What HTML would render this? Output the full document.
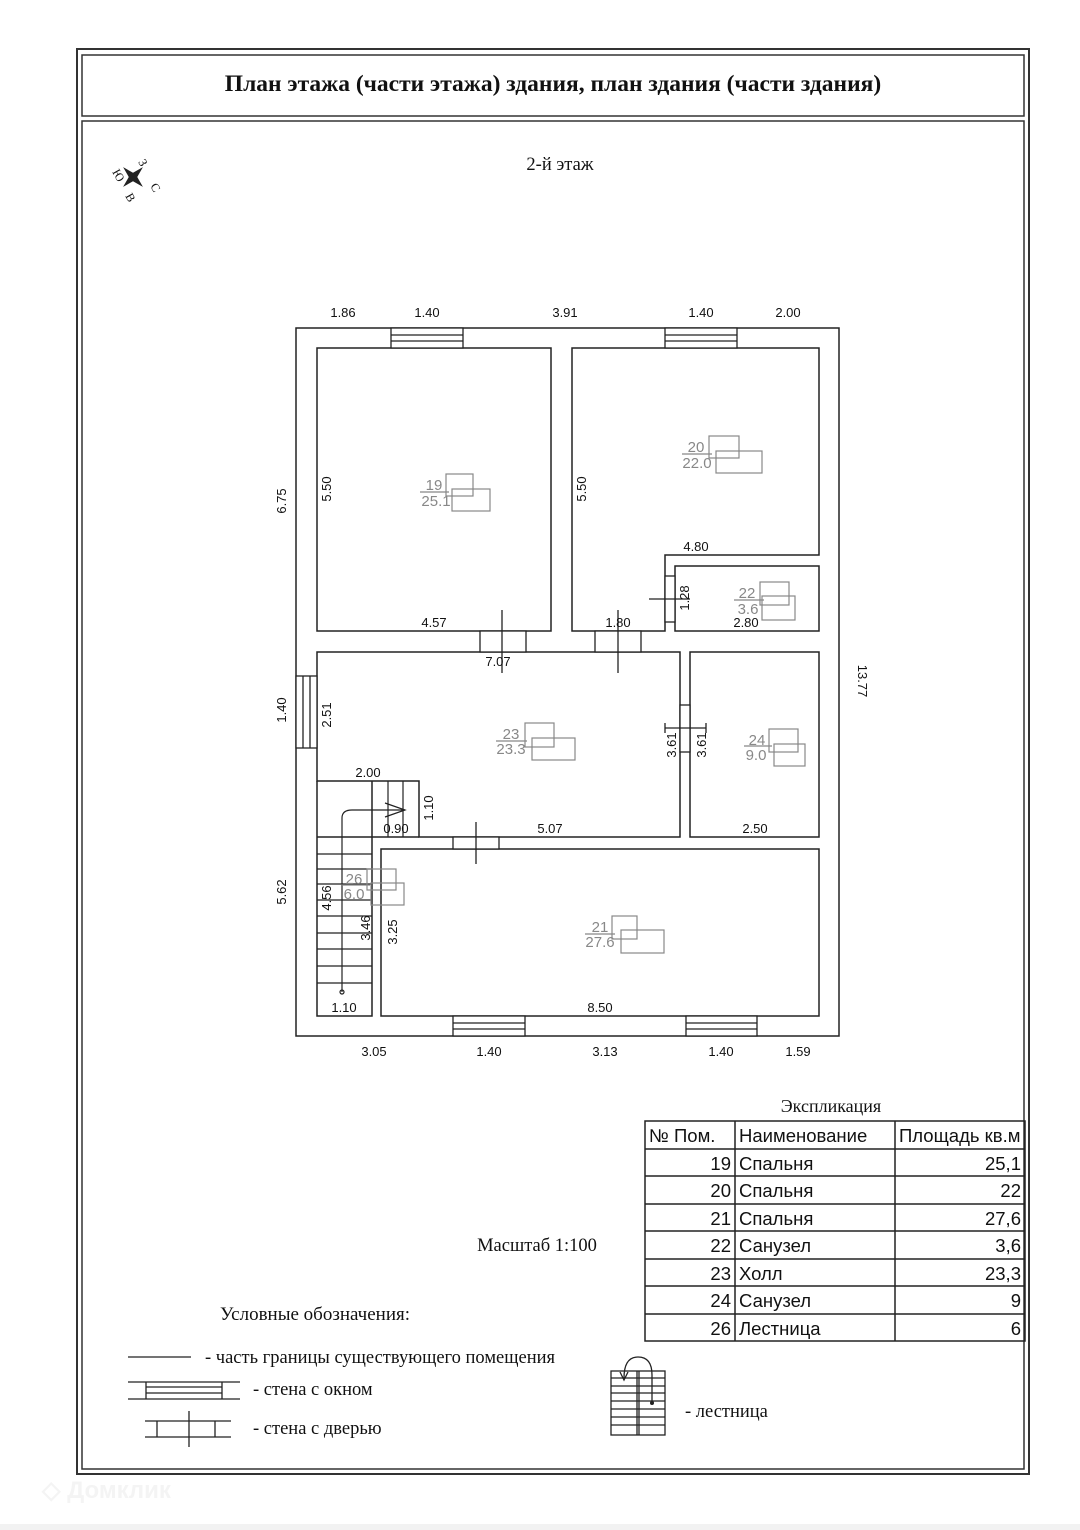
<!DOCTYPE html>
<html><head><meta charset="utf-8"><style>
html,body{margin:0;padding:0;background:#fff}
svg{display:block}
.d{font-family:"Liberation Sans",sans-serif;font-size:13px;fill:#111}
.r{font-family:"Liberation Sans",sans-serif;font-size:15px;fill:#888}
.s{font-family:"Liberation Serif",serif;fill:#111}
.t{font-family:"Liberation Sans","DejaVu Sans",sans-serif;font-size:18.5px;fill:#111}
</style></head><body>
<svg width="1080" height="1530" viewBox="0 0 1080 1530" xmlns="http://www.w3.org/2000/svg">
<rect x="0" y="1524" width="1080" height="6" fill="#f2f2f2"/>
<g fill="none" stroke="#333">
<rect x="77" y="49" width="952" height="1425" stroke-width="2"/>
<rect x="82" y="55" width="942" height="61" stroke-width="1.5"/>
<rect x="82" y="121" width="942" height="1348" stroke-width="1.5"/>
</g>
<text x="553" y="91" text-anchor="middle" class="s" font-size="23.5" font-weight="bold">План этажа (части этажа) здания, план здания (части здания)</text>
<text x="560" y="170" text-anchor="middle" class="s" font-size="18.5">2-й этаж</text>
<!-- compass -->
<g transform="translate(133,177) rotate(45)">
<path d="M0,-14 L3,-3 L14,0 L3,3 L0,14 L-3,3 L-14,0 L-3,-3Z" fill="#222"/>
</g>
<text x="138" y="162" class="s" font-size="12" transform="rotate(60 138 162)">З</text>
<text x="150" y="186" class="s" font-size="12" transform="rotate(60 150 186)">С</text>
<text x="125" y="196" class="s" font-size="12" transform="rotate(60 125 196)">В</text>
<text x="112" y="172" class="s" font-size="12" transform="rotate(60 112 172)">Ю</text>
<!-- plan -->
<g fill="none" stroke="#222" stroke-width="1.5">
<rect x="296" y="328" width="543" height="708"/>
<rect x="317" y="348" width="234" height="283"/>
<path d="M572,348 H819 V555 H665 V631 H572 Z"/>
<rect x="675" y="566" width="144" height="65"/>
<path d="M317,652 H680 V837 H419 V781 H317 Z"/>
<rect x="690" y="652" width="129" height="185"/>
<rect x="381" y="849" width="438" height="167"/>
<path d="M317,781 V1016 H372 V837"/>
<path d="M372,781 V837 M317,837 H419"/>
</g>
<!-- stairs -->
<g stroke="#222" stroke-width="1.2" fill="none">
<path d="M388,781 V837 M403,781 V837"/>
<path d="M317,854 H372 M317,869 H372 M317,884 H372 M317,900 H372 M317,916 H372 M317,933 H372 M317,949 H372 M317,966 H372 M317,983 H372"/>
<path d="M342,992 V818 Q342,810 352,810 H405"/>
<path d="M385,803 L405,810 L385,817"/>
<circle cx="342" cy="992" r="2"/>
</g>
<!-- windows -->
<g fill="#fff" stroke="#222" stroke-width="1.3">
<rect x="391" y="328" width="72" height="20"/><path d="M391,335 H463 M391,341 H463"/>
<rect x="665" y="328" width="72" height="20"/><path d="M665,335 H737 M665,341 H737"/>
<rect x="453" y="1016" width="72" height="20"/><path d="M453,1023 H525 M453,1029 H525"/>
<rect x="686" y="1016" width="71" height="20"/><path d="M686,1023 H757 M686,1029 H757"/>
<rect x="296" y="676" width="21" height="72"/><path d="M303,676 V748 M310,676 V748"/>
</g>
<!-- doors -->
<g fill="#fff" stroke="#222" stroke-width="1.3">
<rect x="480" y="631" width="46" height="21"/><path d="M502,610 V673"/>
<rect x="595" y="631" width="46" height="21"/><path d="M618,610 V673"/>
<rect x="680" y="705" width="10" height="47"/><path d="M665,728 H706 M665,723 V733 M706,723 V733"/>
<rect x="453" y="837" width="46" height="12"/><path d="M476,822 V864"/>
<rect x="665" y="576" width="10" height="46"/><path d="M649,599 H690"/>
</g>
<!-- room labels -->
<g stroke="#888" stroke-width="1.2" fill="none">
<rect x="446" y="474" width="27" height="22"/><rect x="452" y="489" width="38" height="22"/><path d="M420,492 H449"/>
<rect x="709" y="436" width="30" height="22"/><rect x="716" y="451" width="46" height="22"/><path d="M682,454 H712"/>
<rect x="760" y="582" width="29" height="23"/><rect x="762" y="596" width="33" height="24"/><path d="M734,600 H764"/>
<rect x="525" y="723" width="29" height="24"/><rect x="532" y="738" width="43" height="22"/><path d="M496,741 H527"/>
<rect x="769" y="729" width="29" height="23"/><rect x="774" y="744" width="31" height="22"/><path d="M744,746 H772"/>
<rect x="367" y="869" width="29" height="21"/><rect x="371" y="883" width="33" height="22"/><path d="M341,885 H370"/>
<rect x="612" y="916" width="25" height="23"/><rect x="621" y="930" width="43" height="23"/><path d="M585,934 H615"/>
</g>
<g class="r" text-anchor="middle">
<text x="434" y="490">19</text><text x="436" y="506">25.1</text>
<text x="696" y="452">20</text><text x="697" y="468">22.0</text>
<text x="747" y="598">22</text><text x="748" y="614">3.6</text>
<text x="511" y="739">23</text><text x="511" y="754">23.3</text>
<text x="757" y="745">24</text><text x="756" y="760">9.0</text>
<text x="354" y="884">26</text><text x="354" y="899">6.0</text>
<text x="600" y="932">21</text><text x="600" y="947">27.6</text>
</g>
<!-- dims -->
<g class="d" text-anchor="middle">
<text x="343" y="317">1.86</text><text x="427" y="317">1.40</text><text x="565" y="317">3.91</text><text x="701" y="317">1.40</text><text x="788" y="317">2.00</text>
<text x="374" y="1056">3.05</text><text x="489" y="1056">1.40</text><text x="605" y="1056">3.13</text><text x="721" y="1056">1.40</text><text x="798" y="1056">1.59</text>
<text x="434" y="627">4.57</text><text x="618" y="627">1.80</text><text x="746" y="627">2.80</text><text x="696" y="551">4.80</text>
<text x="498" y="666">7.07</text><text x="368" y="777">2.00</text><text x="396" y="833">0.90</text><text x="550" y="833">5.07</text>
<text x="755" y="833">2.50</text><text x="344" y="1012">1.10</text><text x="600" y="1012">8.50</text>
</g>
<g class="d" text-anchor="middle">
<text transform="translate(286,501) rotate(-90)">6.75</text>
<text transform="translate(286,710) rotate(-90)">1.40</text>
<text transform="translate(286,892) rotate(-90)">5.62</text>
<text transform="translate(331,489) rotate(-90)">5.50</text>
<text transform="translate(586,489) rotate(-90)">5.50</text>
<text transform="translate(331,715) rotate(-90)">2.51</text>
<text transform="translate(689,598) rotate(-90)">1.28</text>
<text transform="translate(676,745) rotate(-90)">3.61</text>
<text transform="translate(706,745) rotate(-90)">3.61</text>
<text transform="translate(433,808) rotate(-90)">1.10</text>
<text transform="translate(331,898) rotate(-90)">4.56</text>
<text transform="translate(370,928) rotate(-90)">3.46</text>
<text transform="translate(397,932) rotate(-90)">3.25</text>
<text transform="translate(858,681) rotate(90)">13.77</text>
</g>
<!-- table -->
<text x="831" y="1112" text-anchor="middle" class="s" font-size="18">Экспликация</text>
<g stroke="#222" stroke-width="1.5" fill="none">
<rect x="645" y="1121" width="380" height="220"/>
<path d="M735,1121 V1341 M895,1121 V1341"/>
<path d="M645,1149 H1025 M645,1176 H1025 M645,1204 H1025 M645,1231 H1025 M645,1259 H1025 M645,1286 H1025 M645,1314 H1025"/>
</g>
<g class="t">
<text x="649" y="1142">№ Пом.</text><text x="739" y="1142">Наименование</text><text x="899" y="1142">Площадь кв.м</text>
<g text-anchor="end"><text x="731" y="1170">19</text><text x="731" y="1197">20</text><text x="731" y="1225">21</text><text x="731" y="1252">22</text><text x="731" y="1280">23</text><text x="731" y="1307">24</text><text x="731" y="1335">26</text></g>
<text x="739" y="1170">Спальня</text><text x="739" y="1197">Спальня</text><text x="739" y="1225">Спальня</text><text x="739" y="1252">Санузел</text><text x="739" y="1280">Холл</text><text x="739" y="1307">Санузел</text><text x="739" y="1335">Лестница</text>
<g text-anchor="end"><text x="1021" y="1170">25,1</text><text x="1021" y="1197">22</text><text x="1021" y="1225">27,6</text><text x="1021" y="1252">3,6</text><text x="1021" y="1280">23,3</text><text x="1021" y="1307">9</text><text x="1021" y="1335">6</text></g>
</g>
<text x="537" y="1251" text-anchor="middle" class="s" font-size="18.5">Масштаб 1:100</text>
<text x="220" y="1320" class="s" font-size="19">Условные обозначения:</text>
<!-- legend -->
<g stroke="#222" stroke-width="1.3" fill="none">
<path d="M128,1357 H191"/>
<path d="M128,1382 H240 M128,1399 H240 M146,1382 V1399 M222,1382 V1399 M146,1387 H222 M146,1393 H222"/>
<path d="M145,1421 H231 M145,1437 H231 M157,1421 V1437 M215,1421 V1437 M189,1411 V1447"/>
<rect x="611" y="1371" width="54" height="64"/>
<path d="M637,1371 V1435 M639,1371 V1435 M611,1378 H665 M611,1386 H665 M611,1393 H665 M611,1401 H665 M611,1409 H665 M611,1417 H665 M611,1425 H665"/>
<path d="M652,1403 V1375 Q652,1357 638,1357 Q624,1357 624,1378"/>
<path d="M620,1372 L624,1380 L628,1372"/>
</g>
<circle cx="652" cy="1403" r="2" fill="#222"/>
<g class="s" font-size="18.5">
<text x="205" y="1363">- часть границы существующего помещения</text>
<text x="253" y="1395">- стена с окном</text>
<text x="253" y="1434">- стена с дверью</text>
<text x="685" y="1417">- лестница</text>
</g>
<text x="42" y="1498" font-family="Liberation Sans,sans-serif" font-size="24" font-weight="bold" fill="#f4f4f4">◇ Домклик</text>
</svg>
</body></html>
